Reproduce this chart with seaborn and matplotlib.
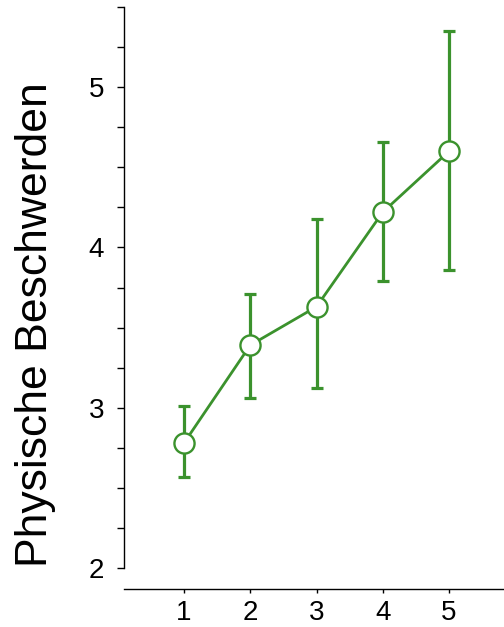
import matplotlib
matplotlib.use("Agg")
import matplotlib.pyplot as plt
import seaborn as sns
import numpy as np
import pandas as pd

x_vals = [1, 2, 3, 4, 5]
means = [2.78, 3.39, 3.63, 4.22, 4.60]
upper = [3.01, 3.71, 4.175, 4.66, 5.35]
lower = [2.57, 3.06, 3.125, 3.79, 3.86]
y_label = "Physische Beschwerden"
green = "#3b922d"

sns.set_style("ticks")
plt.rcParams['font.family'] = ['Liberation Sans', 'DejaVu Sans']

df = pd.DataFrame({"x": x_vals, "y": means})

W, H = 504, 627
fig = plt.figure(figsize=(W / 100, H / 100), dpi=100)
left_px, right_px = 124, 504
top_px, bot_px = 7, 568
ax = fig.add_axes([left_px / W, 1 - bot_px / H, (right_px - left_px) / W, (bot_px - top_px) / H])

yerr = np.array([np.array(means) - np.array(lower), np.array(upper) - np.array(means)])
ax.errorbar(x_vals, means, yerr=yerr, fmt='none', ecolor=green, elinewidth=2.3,
            capsize=4.3, capthick=2.3, zorder=2)
sns.lineplot(data=df, x="x", y="y", ax=ax, color=green, linewidth=2.0, marker='o',
             markersize=14.5, markerfacecolor='white', markeredgecolor=green,
             markeredgewidth=1.7, zorder=3)

ppu = 66.25
ax.set_xlim(1 - (184 - left_px) / ppu, 5 + (right_px - 449) / ppu)
ax.set_ylim(2, 5.5)
ax.set_xticks(x_vals)
ax.set_xticklabels([str(v) for v in x_vals])
yt = np.arange(2, 5.51, 0.25)
ax.set_yticks(yt)
ax.set_yticklabels([str(int(v)) if abs(v - round(v)) < 1e-9 else "" for v in yt])

for s in ['top', 'right']:
    ax.spines[s].set_visible(False)
ax.spines['left'].set_bounds(2, 5.5)
ax.spines['bottom'].set_position(('outward', 21 * 0.72))
for s in ['left', 'bottom']:
    ax.spines[s].set_linewidth(1.0)
    ax.spines[s].set_color('black')

ax.tick_params(axis='y', direction='out', length=7 * 0.72, width=1.0, labelsize=20,
               pad=9.4, colors='black')
ax.tick_params(axis='x', direction='out', length=4 * 0.72, width=1.0, labelsize=20,
               pad=5, colors='black')
ax.set_xlabel("")
ax.set_ylabel(y_label, fontsize=32, color='black')
ax.yaxis.set_label_coords((56 - left_px) / (right_px - left_px),
                          (bot_px - 325) / (bot_px - top_px))

fig.savefig("out.png", dpi=100)
